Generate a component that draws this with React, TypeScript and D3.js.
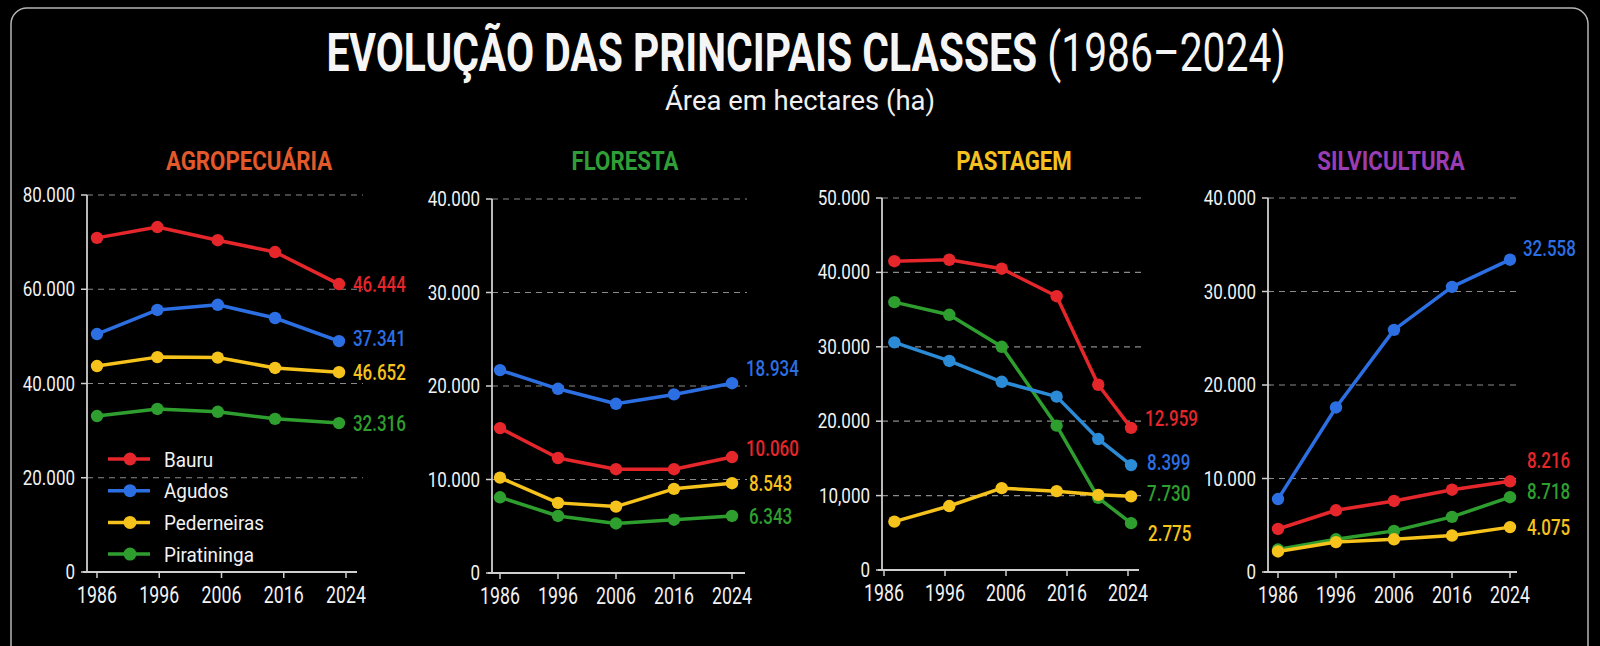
import React from 'react';
import * as d3 from 'd3';

const FONT = 'Roboto, "Noto Sans", sans-serif';

const YEARS = [1986, 1996, 2006, 2016, 2024];
const CITIES = ['Bauru', 'Agudos', 'Pederneiras', 'Piratininga'];
const CITY_COLORS = ['#e5262b', '#2c6fe3', '#f6c21c', '#2e9f2e'];
// draw order (last on top)
const DRAW_ORDER = [3, 1, 0, 2];

// AGROPECUÁRIA
const agroYears = [1986, 1995.7, 2005.4, 2014.6, 2023.1];
const agroBauru = [70900, 73200, 70400, 67900, 61100];
const agroAgudos = [50500, 55600, 56700, 53900, 49000];
const agroPederneiras = [43700, 45600, 45500, 43300, 42400];
const agroPiratininga = [33100, 34600, 34000, 32500, 31600];
const agroLabels = ['46.444', '37.341', '46.652', '32.316'];
const agroTicks = ['0', '20.000', '40.000', '60.000', '80.000'];

// FLORESTA
const florYears = [1986, 1996, 2006, 2016, 2024];
const florBauru = [15500, 12300, 11100, 11100, 12400];
const florAgudos = [21700, 19700, 18100, 19100, 20300];
const florPederneiras = [10200, 7500, 7100, 9000, 9600];
const florPiratininga = [8100, 6100, 5300, 5700, 6100];
const florLabels = ['10.060', '18.934', '8.543', '6.343'];
const florTicks = ['0', '10.000', '20.000', '30.000', '40.000'];

// PASTAGEM
const pastYears = [1987.7, 1996.7, 2005.3, 2014.3, 2020.1, 2024.4];
const pastBauru = [41500, 41700, 40500, 36800, 24900, 19100];
const pastAgudos = [30600, 28100, 25300, 23300, 17600, 14100];
const pastPederneiras = [6500, 8600, 11000, 10600, 10100, 9900];
const pastPiratininga = [36000, 34300, 30000, 19400, 9700, 6300];
const pastLabels = ['12.959', '8.399', '2.775', '7.730'];
const pastTicks = ['0', '10,000', '20.000', '30.000', '40.000', '50.000'];

// SILVICULTURA
const silvYears = [1986, 1996, 2006, 2016, 2024];
const silvBauru = [4600, 6600, 7600, 8800, 9700];
const silvAgudos = [7800, 17600, 25900, 30500, 33400];
const silvPederneiras = [2200, 3200, 3500, 3900, 4800];
const silvPiratininga = [2400, 3500, 4400, 5900, 8000];
const silvLabels = ['8.216', '32.558', '4.075', '8.718'];
const silvTicks = ['0', '10.000', '20.000', '30.000', '40.000'];

const PANELS = [
  {
    title: 'AGROPECUÁRIA', titleColor: '#e2592b', titleX: 249,
    years: agroYears, series: [agroBauru, agroAgudos, agroPederneiras, agroPiratininga],
    labels: agroLabels, ticks: agroTicks, max: 80000,
    axisX: 87, x0: 97, x1: 346, yTop: 195, yBottom: 572, gridEnd: 363, xEnd: 357,
    labelDx: [14, 14, 14, 14], labelDy: [0, -3, 0, 0], legend: true,
  },
  {
    title: 'FLORESTA', titleColor: '#2f9e36', titleX: 625,
    years: florYears, series: [florBauru, florAgudos, florPederneiras, florPiratininga],
    labels: florLabels, ticks: florTicks, max: 40000,
    axisX: 492, x0: 500, x1: 732, yTop: 199, yBottom: 573, gridEnd: 747, xEnd: 745,
    labelDx: [14, 14, 17, 17], labelDy: [-9, -15, 0, 0],
  },
  {
    title: 'PASTAGEM', titleColor: '#f4c120', titleX: 1014,
    years: pastYears, series: [pastBauru, pastAgudos, pastPederneiras, pastPiratininga],
    labels: pastLabels, ticks: pastTicks, max: 50000,
    axisX: 882, x0: 884, x1: 1128, yTop: 198, yBottom: 570, gridEnd: 1143, xEnd: 1139,
    labelDx: [14, 16, 17, 16], labelDy: [-10, -3, 37, -30],
    lineColors: ['#e5262b', '#2b8bd6', '#f6c21c', '#2e9f2e'],
  },
  {
    title: 'SILVICULTURA', titleColor: '#9a3db5', titleX: 1391,
    years: silvYears, series: [silvBauru, silvAgudos, silvPederneiras, silvPiratininga],
    labels: silvLabels, ticks: silvTicks, max: 40000,
    axisX: 1268, x0: 1278, x1: 1510, yTop: 198, yBottom: 572, gridEnd: 1518, xEnd: 1517,
    labelDx: [17, 13, 17, 17], labelDy: [-21, -12, 0, -6],
  },
];

// text squeezed horizontally to imitate the condensed face of the original
const Txt = ({ x, y, sx = 1, size, anchor = 'start', fill = '#f2f2f2', weight = 'normal', children }: any) => (
  <text transform={`translate(${x},${y}) scale(${sx},1)`} textAnchor={anchor} fill={fill}
    fontSize={size} fontWeight={weight} fontFamily={FONT}>{children}</text>
);

const Panel = ({ p }: { p: any }) => {
  const step = (p.x1 - p.x0) / (YEARS.length - 1);
  const x = d3.scaleLinear().domain(YEARS).range(YEARS.map((_, i) => p.x0 + i * step));
  const y = d3.scaleLinear().domain([0, p.max]).range([p.yBottom, p.yTop]);
  const tickStep = p.max / (p.ticks.length - 1);
  const line = d3.line<number>().x((_, i) => x(p.years[i])).y(d => y(d));
  const colors = p.lineColors || CITY_COLORS;

  return (
    <g>
      <Txt x={p.titleX} y={170} sx={0.89} size={25} anchor="middle" fill={p.titleColor} weight="bold">
        {p.title}
      </Txt>

      {p.ticks.map((t: string, i: number) => {
        const yy = y(i * tickStep);
        return (
          <g key={t}>
            {i > 0 && (
              <line x1={p.axisX} x2={p.gridEnd} y1={yy} y2={yy}
                stroke="#8a8a8a" strokeWidth={1.2} strokeDasharray="6,5" />
            )}
            <line x1={p.axisX - 6} x2={p.axisX} y1={yy} y2={yy} stroke="#cfcfcf" strokeWidth={1.5} />
            <Txt x={p.axisX - 12} y={yy + 7} sx={0.85} size={20} anchor="end">{t}</Txt>
          </g>
        );
      })}

      <line x1={p.axisX} x2={p.axisX} y1={y(p.max)} y2={y(0)} stroke="#cfcfcf" strokeWidth={1.8} />
      <line x1={p.axisX - 4} x2={p.xEnd} y1={y(0)} y2={y(0)} stroke="#cfcfcf" strokeWidth={1.8} />

      {YEARS.map(yr => (
        <g key={yr}>
          <line x1={x(yr)} x2={x(yr)} y1={y(0)} y2={y(0) + 6} stroke="#cfcfcf" strokeWidth={1.5} />
          <Txt x={x(yr)} y={y(0) + 31} sx={0.77} size={23} anchor="middle">{yr}</Txt>
        </g>
      ))}

      {DRAW_ORDER.map(ci => {
        const vals: number[] = p.series[ci];
        return (
          <g key={ci}>
            <path d={line(vals) || ''} fill="none" stroke={colors[ci]} strokeWidth={3.5}
              strokeLinejoin="round" />
            {vals.map((v, i) => (
              <circle key={i} cx={x(p.years[i])} cy={y(v)} r={6.2} fill={colors[ci]} />
            ))}
          </g>
        );
      })}

      {p.series.map((vals: number[], ci: number) => {
        const last = vals.length - 1;
        return (
          <Txt key={ci} x={x(p.years[last]) + p.labelDx[ci]} y={y(vals[last]) + p.labelDy[ci] + 8}
            sx={0.77} size={22} weight={500} fill={CITY_COLORS[ci]}>{p.labels[ci]}</Txt>
        );
      })}

      {p.legend && CITIES.map((c, i) => {
        const ly = 459 + i * 31.7;
        return (
          <g key={c}>
            <line x1={108} x2={150} y1={ly} y2={ly} stroke={CITY_COLORS[i]} strokeWidth={3.5} />
            <circle cx={130} cy={ly} r={6.5} fill={CITY_COLORS[i]} />
            <Txt x={164} y={ly + 7.7} sx={0.9} size={21}>{c}</Txt>
          </g>
        );
      })}
    </g>
  );
};

export default function App() {
  return (
    <svg width={1600} height={646} style={{ position: 'absolute', left: 0, top: 0, background: '#000' }}>
      <rect x={0} y={0} width={1600} height={646} fill="#000" />
      <rect x={11} y={8} width={1577} height={700} rx={16} fill="none" stroke="#b5b5b5" strokeWidth={1.5} />
      <Txt x={806} y={71} sx={0.77} size={53} anchor="middle" fill="#f5f5f5">
        <tspan fontWeight="bold">EVOLUÇÃO DAS PRINCIPAIS CLASSES</tspan>
        <tspan> (1986–2024)</tspan>
      </Txt>
      <Txt x={800} y={110} sx={0.98} size={28} anchor="middle" fill="#f0f0f0">
        Área em hectares (ha)
      </Txt>
      {PANELS.map(p => <Panel key={p.title} p={p} />)}
    </svg>
  );
}
